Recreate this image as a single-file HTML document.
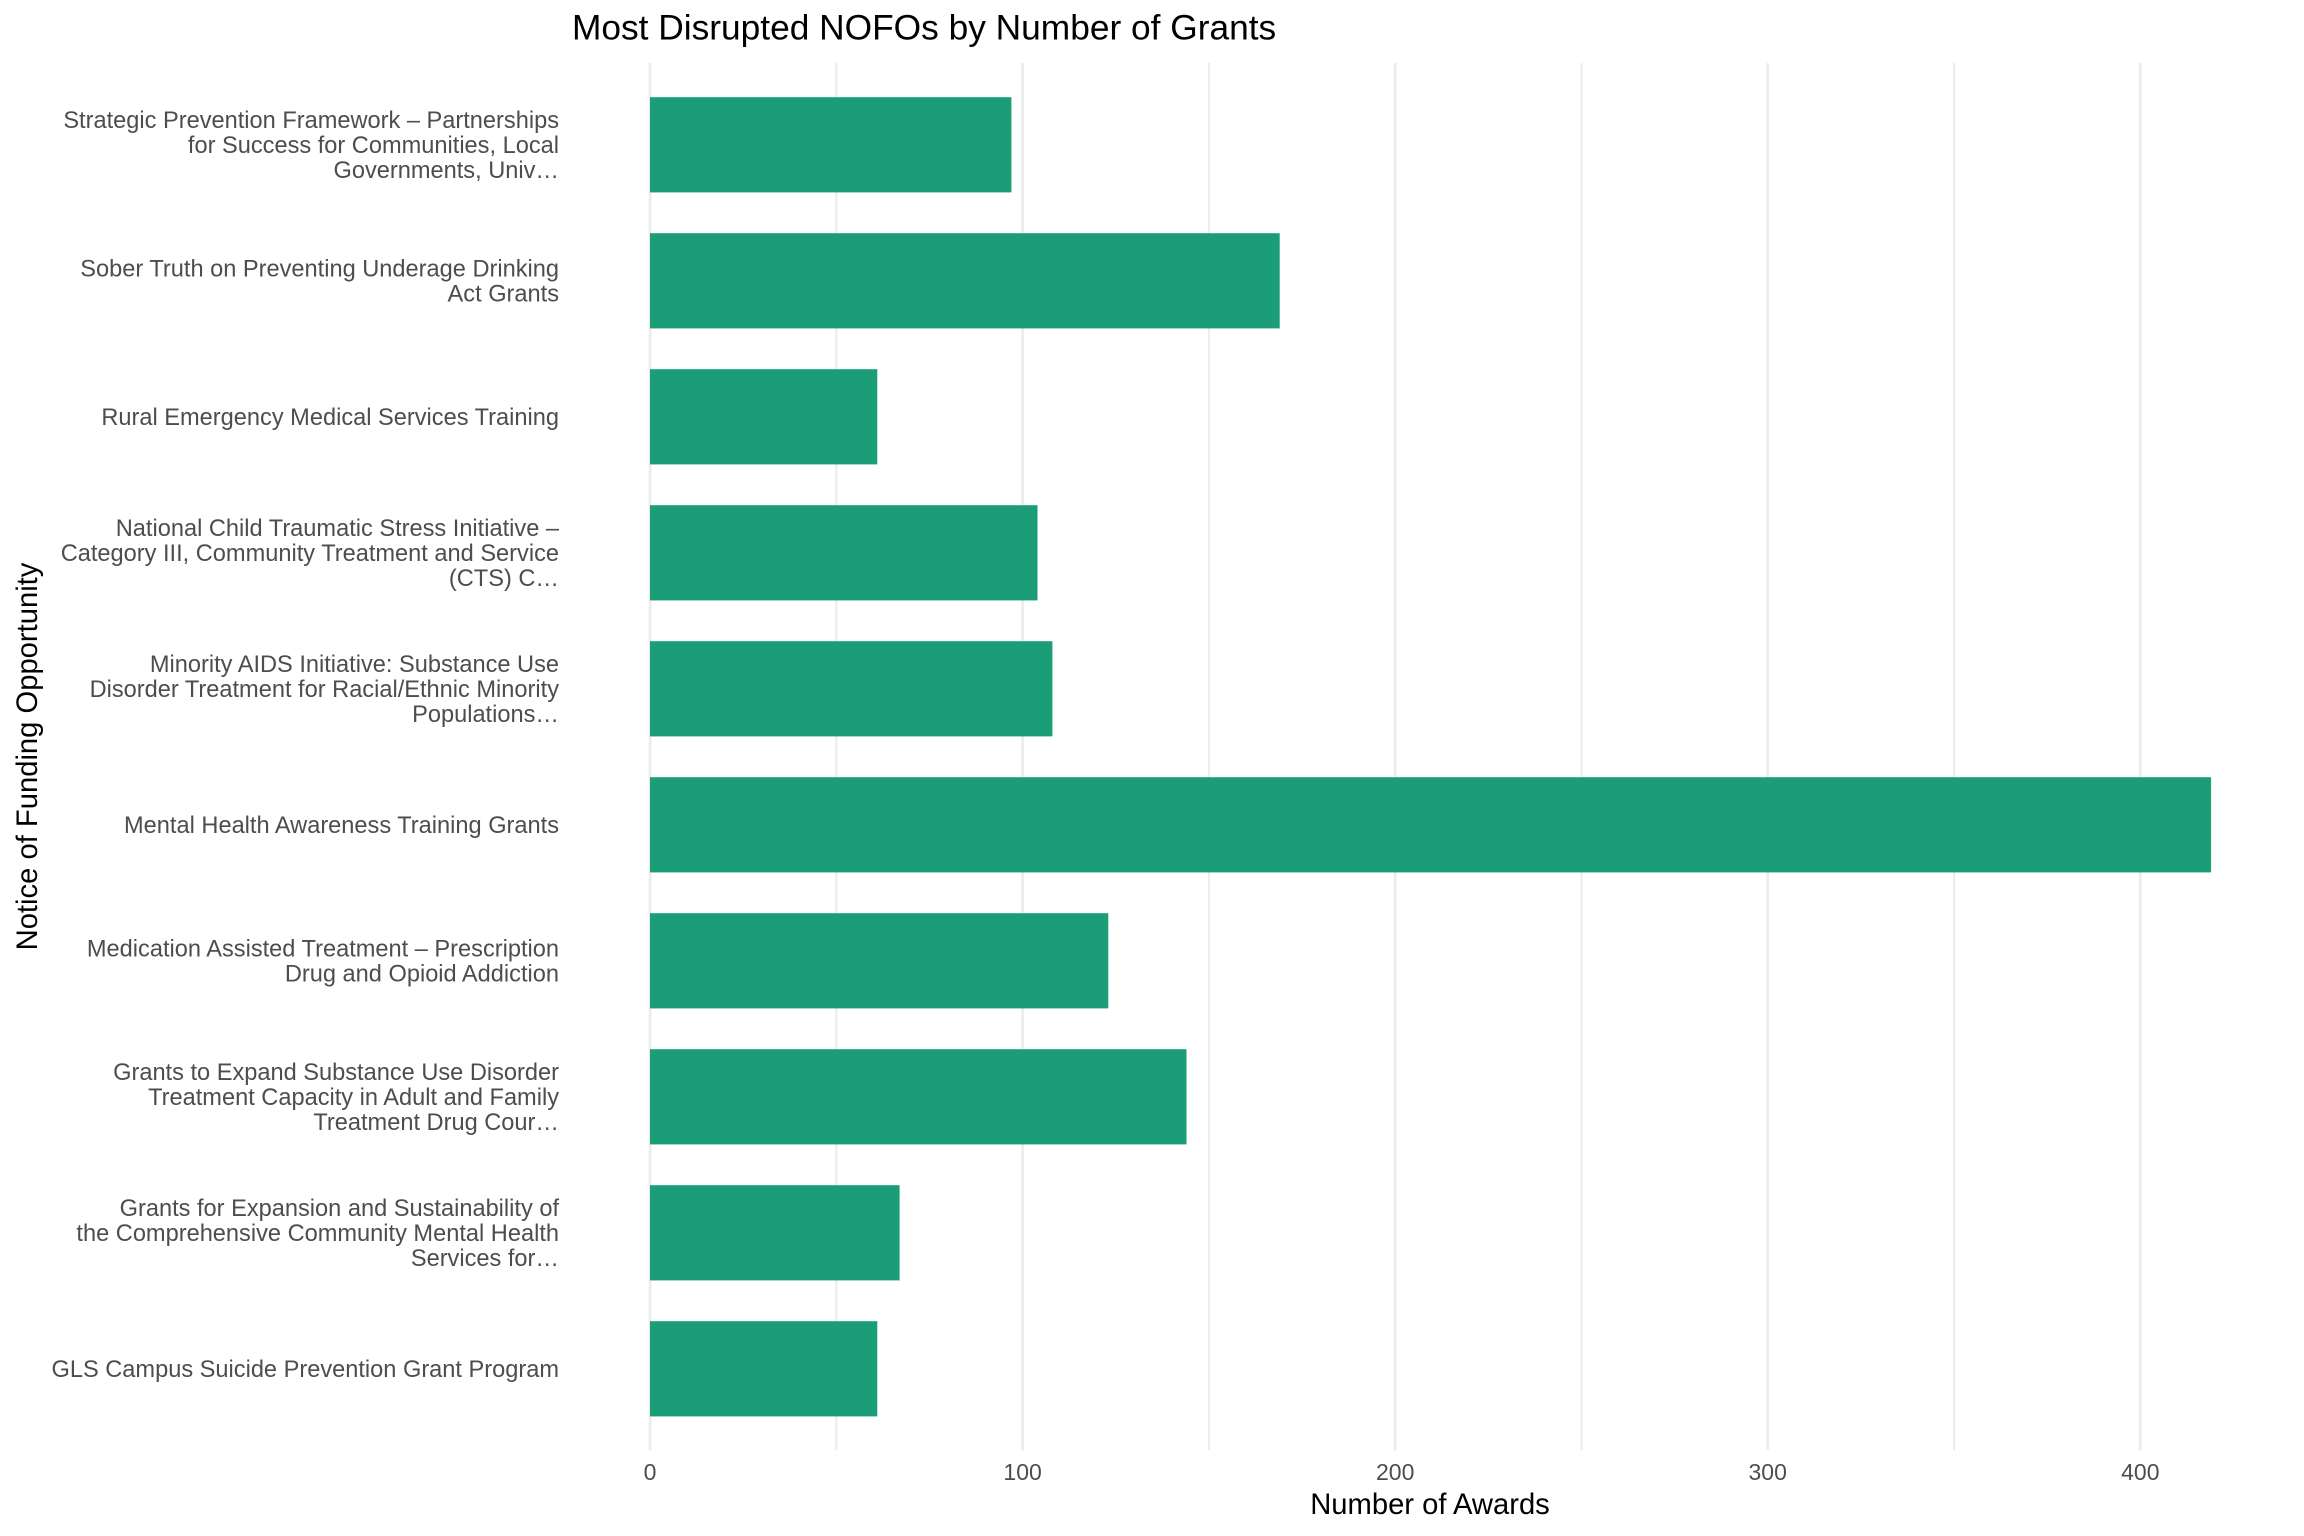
<!DOCTYPE html>
<html><head><meta charset="utf-8"><style>
html,body{margin:0;padding:0;background:#fff;}
svg{display:block;}
text{font-family:"Liberation Sans",Arial,sans-serif;}
.yl{font-size:23.6px;fill:#4D4D4D;text-anchor:end;}
.xl{font-size:23px;fill:#4D4D4D;text-anchor:middle;}
</style></head><body>
<svg width="2304" height="1536" viewBox="0 0 2304 1536" xmlns="http://www.w3.org/2000/svg">
<rect width="2304" height="1536" fill="#fff"/>
<!-- gridlines -->
<g stroke="#EBEBEB">
<line x1="836.3" y1="63" x2="836.3" y2="1450" stroke-width="2"/>
<line x1="1208.9" y1="63" x2="1208.9" y2="1450" stroke-width="2"/>
<line x1="1581.5" y1="63" x2="1581.5" y2="1450" stroke-width="2"/>
<line x1="1954.1" y1="63" x2="1954.1" y2="1450" stroke-width="2"/>
<line x1="650" y1="63" x2="650" y2="1450" stroke-width="2.6"/>
<line x1="1022.6" y1="63" x2="1022.6" y2="1450" stroke-width="2.6"/>
<line x1="1395.2" y1="63" x2="1395.2" y2="1450" stroke-width="2.6"/>
<line x1="1767.7" y1="63" x2="1767.7" y2="1450" stroke-width="2.6"/>
<line x1="2140.3" y1="63" x2="2140.3" y2="1450" stroke-width="2.6"/>
</g>
<!-- bars -->
<g fill="#1B9E77">
<rect x="650" y="97.2" width="361.4" height="95.2"/>
<rect x="650" y="233.2" width="629.7" height="95.2"/>
<rect x="650" y="369.2" width="227.3" height="95.2"/>
<rect x="650" y="505.2" width="387.5" height="95.2"/>
<rect x="650" y="641.2" width="402.4" height="95.2"/>
<rect x="650" y="777.2" width="1561.1" height="95.2"/>
<rect x="650" y="913.2" width="458.3" height="95.2"/>
<rect x="650" y="1049.2" width="536.5" height="95.2"/>
<rect x="650" y="1185.2" width="249.6" height="95.2"/>
<rect x="650" y="1321.2" width="227.3" height="95.2"/>
</g>
<!-- y labels -->
<g>
<text class="yl" x="559" y="128">Strategic Prevention Framework – Partnerships</text>
<text class="yl" x="559" y="153">for Success for Communities, Local</text>
<text class="yl" x="559" y="178">Governments, Univ…</text>

<text class="yl" x="559" y="276.5">Sober Truth on Preventing Underage Drinking</text>
<text class="yl" x="559" y="301.5">Act Grants</text>

<text class="yl" x="559" y="425">Rural Emergency Medical Services Training</text>

<text class="yl" x="559" y="536">National Child Traumatic Stress Initiative –</text>
<text class="yl" x="559" y="561">Category III, Community Treatment and Service</text>
<text class="yl" x="559" y="586">(CTS) C…</text>

<text class="yl" x="559" y="672">Minority AIDS Initiative: Substance Use</text>
<text class="yl" x="559" y="697">Disorder Treatment for Racial/Ethnic Minority</text>
<text class="yl" x="559" y="722">Populations…</text>

<text class="yl" x="559" y="833">Mental Health Awareness Training Grants</text>

<text class="yl" x="559" y="956.5">Medication Assisted Treatment – Prescription</text>
<text class="yl" x="559" y="981.5">Drug and Opioid Addiction</text>

<text class="yl" x="559" y="1080">Grants to Expand Substance Use Disorder</text>
<text class="yl" x="559" y="1105">Treatment Capacity in Adult and Family</text>
<text class="yl" x="559" y="1130">Treatment Drug Cour…</text>

<text class="yl" x="559" y="1216">Grants for Expansion and Sustainability of</text>
<text class="yl" x="559" y="1241">the Comprehensive Community Mental Health</text>
<text class="yl" x="559" y="1266">Services for…</text>

<text class="yl" x="559" y="1377">GLS Campus Suicide Prevention Grant Program</text>
</g>
<!-- x tick labels -->
<text class="xl" x="650" y="1480">0</text>
<text class="xl" x="1022.6" y="1480">100</text>
<text class="xl" x="1395.2" y="1480">200</text>
<text class="xl" x="1767.7" y="1480">300</text>
<text class="xl" x="2140.3" y="1480">400</text>
<!-- axis titles -->
<text x="1430" y="1514" font-size="29.2" fill="#000" text-anchor="middle">Number of Awards</text>
<text transform="translate(37,756.5) rotate(-90)" font-size="29.2" fill="#000" text-anchor="middle">Notice of Funding Opportunity</text>
<!-- title -->
<text x="572" y="39.3" font-size="35.3" fill="#000">Most Disrupted NOFOs by Number of Grants</text>
</svg>
</body></html>
